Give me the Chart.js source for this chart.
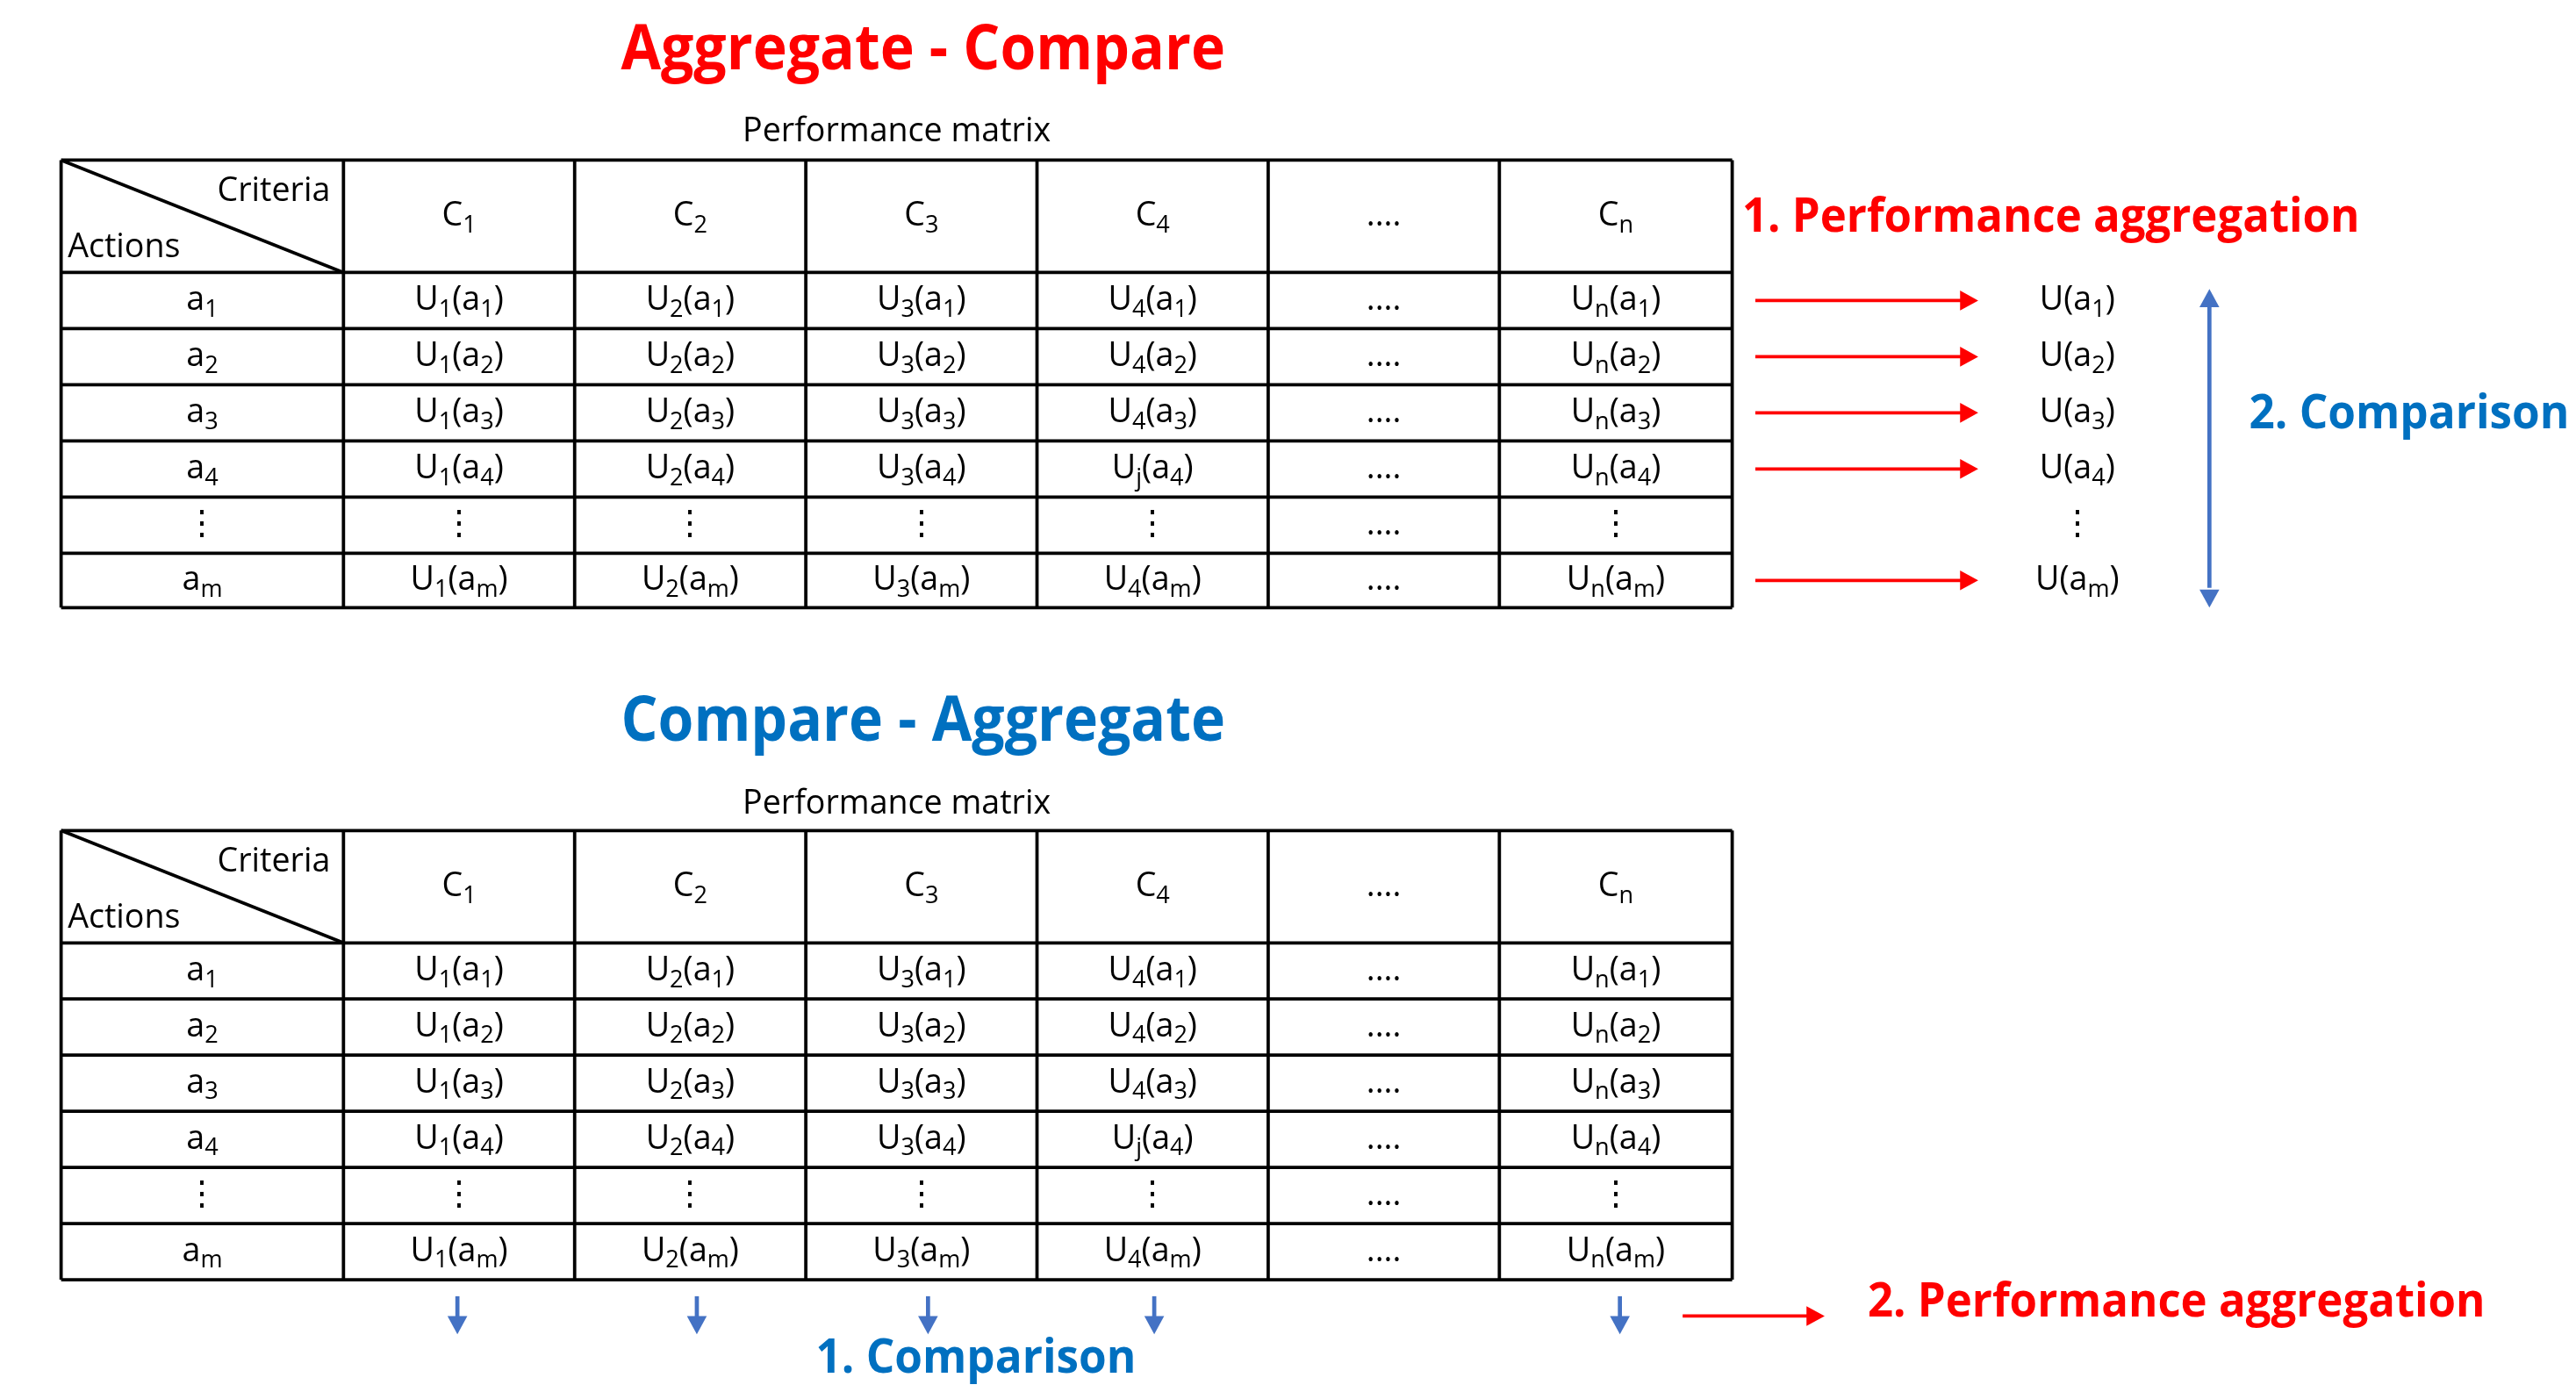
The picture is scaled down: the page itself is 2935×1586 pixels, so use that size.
<!DOCTYPE html>
<html>
<head>
<meta charset="utf-8">
<script src="https://cdn.jsdelivr.net/npm/chart.js@4.4.1/dist/chart.umd.min.js"></script>
<style>
  html, body { margin: 0; padding: 0; background: #fff; }
  #wrap { width: 2935px; height: 1586px; }
</style>
</head>
<body>
<div id="wrap"><canvas id="c"></canvas></div>
<script>
// Table content
const criteria = ['C_1', 'C_2', 'C_3', 'C_4', '....', 'C_n'];
const actions = ['a_1', 'a_2', 'a_3', 'a_4', '⋮', 'a_m'];
const cells = [
  ['U_1(a_1)', 'U_2(a_1)', 'U_3(a_1)', 'U_4(a_1)', '....', 'U_n(a_1)'],
  ['U_1(a_2)', 'U_2(a_2)', 'U_3(a_2)', 'U_4(a_2)', '....', 'U_n(a_2)'],
  ['U_1(a_3)', 'U_2(a_3)', 'U_3(a_3)', 'U_4(a_3)', '....', 'U_n(a_3)'],
  ['U_1(a_4)', 'U_2(a_4)', 'U_3(a_4)', 'U_j(a_4)', '....', 'U_n(a_4)'],
  ['⋮', '⋮', '⋮', '⋮', '....', '⋮'],
  ['U_1(a_m)', 'U_2(a_m)', 'U_3(a_m)', 'U_4(a_m)', '....', 'U_n(a_m)']
];
const aggregated = ['U(a_1)', 'U(a_2)', 'U(a_3)', 'U(a_4)', '⋮', 'U(a_m)'];

// Grid geometry (in diagram units, the scales map them to pixels)
const colEdges = [37, 208, 348, 488, 628, 768, 908, 1049];
const rowEdgesTop = [97, 165, 199, 233, 267, 301, 335, 368];
const rowEdgesBottom = [503, 571, 605, 639, 673, 707, 741, 775];

const RED = '#ff0000';
const BLUE = '#0070c0';
const ARROW_BLUE = '#4472c4';
const FONT = '"Open Sans", "Noto Sans", sans-serif';

const diagramPlugin = {
  id: 'diagram',
  afterDraw(chart) {
    const ctx = chart.ctx;
    const sx = chart.scales.x, sy = chart.scales.y;
    const X = v => sx.getPixelForValue(v);
    const Y = v => sy.getPixelForValue(v);
    const k = (X(100) - X(0)) / 100;

    function line(x1, y1, x2, y2, color, w) {
      ctx.strokeStyle = color;
      ctx.lineWidth = w * k;
      ctx.beginPath();
      ctx.moveTo(X(x1), Y(y1));
      ctx.lineTo(X(x2), Y(y2));
      ctx.stroke();
    }

    function head(x, y, dx, dy, color) {
      // arrow head pointing along (dx, dy)
      const len = 11, wid = 6;
      const px = -dy, py = dx;
      ctx.fillStyle = color;
      ctx.beginPath();
      ctx.moveTo(X(x), Y(y));
      ctx.lineTo(X(x - dx * len + px * wid), Y(y - dy * len + py * wid));
      ctx.lineTo(X(x - dx * len - px * wid), Y(y - dy * len - py * wid));
      ctx.closePath();
      ctx.fill();
    }

    function arrow(x1, y1, x2, y2, color, w) {
      const d = Math.hypot(x2 - x1, y2 - y1);
      const dx = (x2 - x1) / d, dy = (y2 - y1) / d;
      line(x1, y1, x2 - dx * 8, y2 - dy * 8, color, w);
      head(x2, y2, dx, dy, color);
    }

    // text with simple "_x" subscripts
    function rich(str, x, y, size, align, color, weight) {
      const parts = [];
      const re = /_(.)|([^_]+)/g;
      let m;
      while ((m = re.exec(str))) {
        if (m[1]) parts.push({ t: m[1], sub: true });
        else parts.push({ t: m[2], sub: false });
      }
      const fs = size * k;
      const font = s => `${weight || 'normal'} ${s}px ${FONT}`;
      let total = 0;
      parts.forEach(p => {
        ctx.font = font(p.sub ? fs * 0.72 : fs);
        p.w = ctx.measureText(p.t).width;
        total += p.w;
      });
      let cx = X(x);
      if (align === 'center') cx -= total / 2;
      else if (align === 'right') cx -= total;
      ctx.fillStyle = color || '#000';
      ctx.textBaseline = 'middle';
      ctx.textAlign = 'left';
      parts.forEach(p => {
        ctx.font = font(p.sub ? fs * 0.72 : fs);
        ctx.fillText(p.t, cx, Y(y) + (p.sub ? fs * 0.28 : 0));
        cx += p.w;
      });
    }

    function title(str, x, y, size, color, width) {
      ctx.font = `bold ${size * k}px ${FONT}`;
      ctx.fillStyle = color;
      ctx.textAlign = 'center';
      ctx.textBaseline = 'middle';
      ctx.fillText(str, X(x), Y(y), width * k);
    }

    function table(rows) {
      // grid
      colEdges.forEach(cx => line(cx, rows[0], cx, rows[rows.length - 1], '#000', 2));
      rows.forEach(ry => line(colEdges[0], ry, colEdges[colEdges.length - 1], ry, '#000', 2));
      line(colEdges[0], rows[0], colEdges[1], rows[1], '#000', 2);
      rich('Criteria', 200, rows[0] + 19, 20, 'right');
      rich('Actions', 41, rows[0] + 53, 20, 'left');
      criteria.forEach((c, i) => {
        rich(c, (colEdges[i + 1] + colEdges[i + 2]) / 2, (rows[0] + rows[1]) / 2, 20, 'center');
      });
      actions.forEach((a, r) => {
        const cy = (rows[r + 1] + rows[r + 2]) / 2;
        rich(a, (colEdges[0] + colEdges[1]) / 2, cy, 20, 'center');
        cells[r].forEach((t, i) => {
          rich(t, (colEdges[i + 1] + colEdges[i + 2]) / 2, cy, 20, 'center');
        });
      });
    }

    ctx.save();
    ctx.fillStyle = '#fff';
    ctx.fillRect(0, 0, chart.width, chart.height);

    // ---- Aggregate - Compare ----
    title('Aggregate - Compare', 559, 31, 38, RED, 366);
    rich('Performance matrix', 543, 80, 20, 'center');
    table(rowEdgesTop);
    title('1. Performance aggregation', 1242, 132, 29, RED, 374);
    aggregated.forEach((t, r) => {
      const cy = (rowEdgesTop[r + 1] + rowEdgesTop[r + 2]) / 2;
      if (t !== '⋮') arrow(1063, cy, 1198, cy, RED, 2);
      rich(t, 1258, cy, 20, 'center');
    });
    // double-headed comparison arrow
    line(1338, 186, 1338, 356, ARROW_BLUE, 2.5);
    head(1338, 175, 0, -1, ARROW_BLUE);
    head(1338, 368, 0, 1, ARROW_BLUE);
    title('2. Comparison', 1459, 251, 29, BLUE, 194);

    // ---- Compare - Aggregate ----
    title('Compare - Aggregate', 559, 438, 38, BLUE, 366);
    rich('Performance matrix', 543, 487, 20, 'center');
    table(rowEdgesBottom);
    [277, 422, 562, 699, 981].forEach(ax => arrow(ax, 785, ax, 808, ARROW_BLUE, 2.5));
    title('1. Comparison', 591, 823, 29, BLUE, 194);
    arrow(1019, 797, 1105, 797, RED, 2);
    title('2. Performance aggregation', 1318, 789, 29, RED, 374);
    ctx.restore();
  }
};

new Chart(document.getElementById('c'), {
  type: 'scatter',
  data: { datasets: [{ data: [] }] },
  options: {
    responsive: true,
    maintainAspectRatio: false,
    animation: false,
    layout: { padding: 0 },
    plugins: { legend: { display: false }, tooltip: { enabled: false } },
    scales: {
      x: { type: 'linear', min: 0, max: 1560, display: false },
      y: { type: 'linear', min: 0, max: 843, reverse: true, display: false }
    }
  },
  plugins: [diagramPlugin]
});
</script>
</body>
</html>
